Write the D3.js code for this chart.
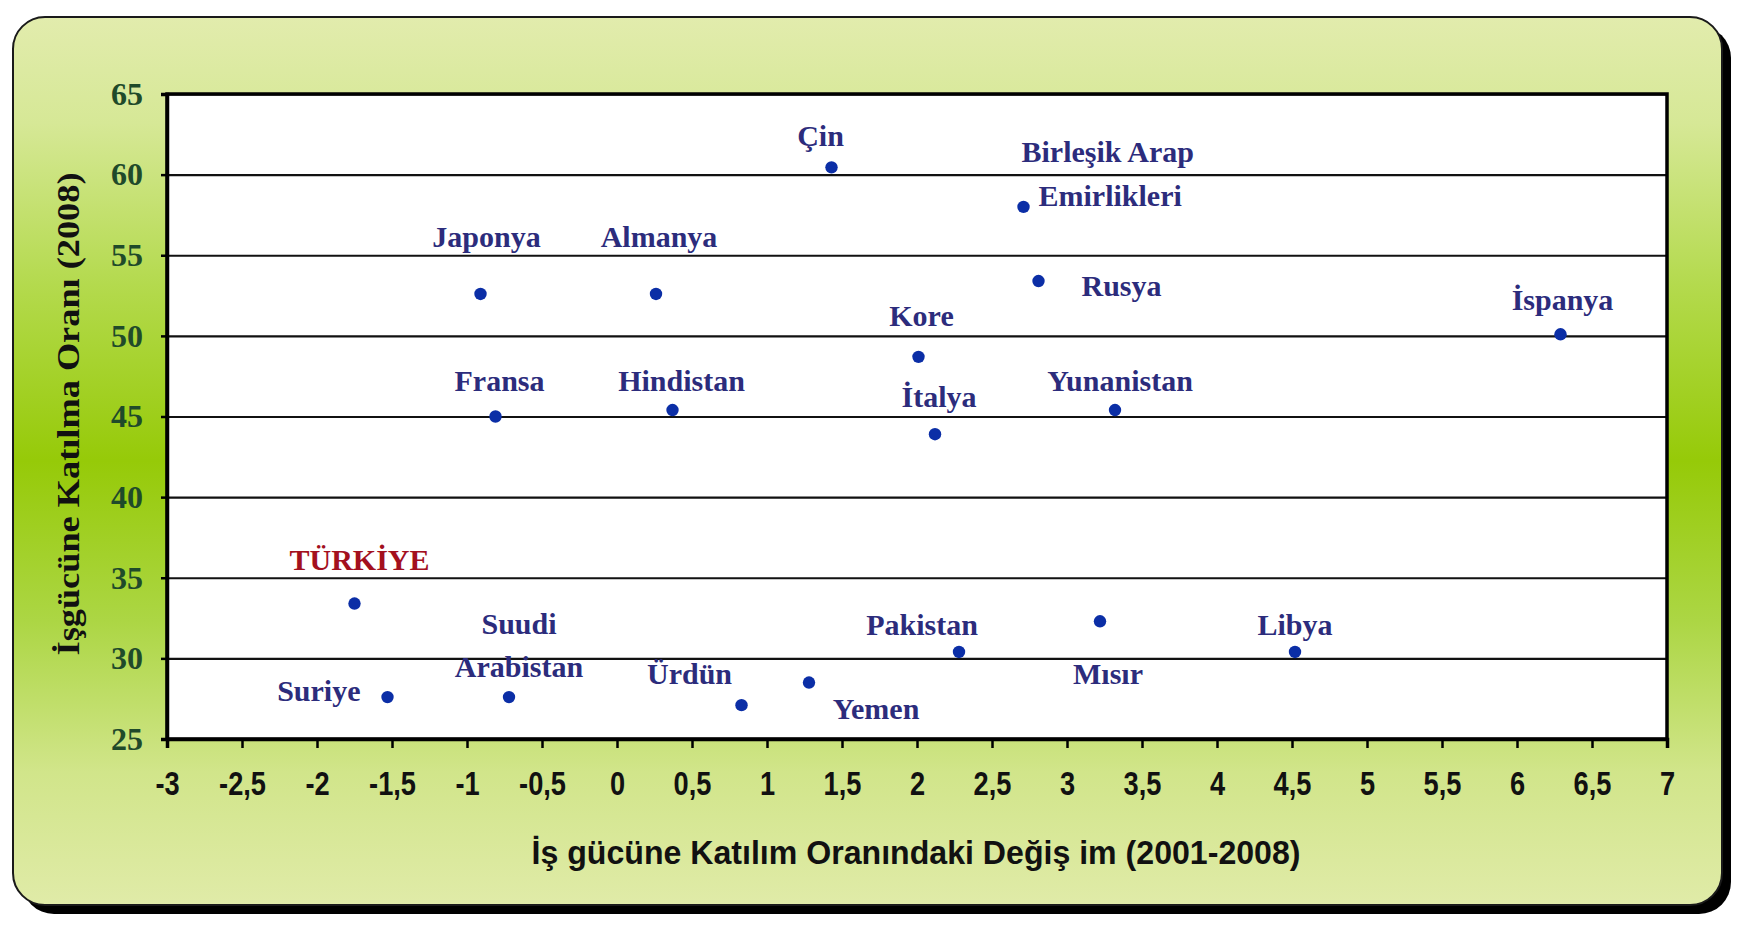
<!DOCTYPE html>
<html>
<head>
<meta charset="utf-8">
<script src="https://cdn.jsdelivr.net/npm/d3@7"></script>
<style>
  body { margin: 0; background: #ffffff; }
  svg { display: block; }
</style>
</head>
<body>
<script>
'use strict';

// chart values
const countries = ["Çin", "Birleşik Arap Emirlikleri", "Japonya", "Almanya", "Rusya", "İspanya",
  "Kore", "Fransa", "Hindistan", "İtalya", "Yunanistan", "TÜRKİYE", "Suriye", "Suudi Arabistan",
  "Ürdün", "Yemen", "Pakistan", "Mısır", "Libya"];
const changeValues = [1.43, 2.71, -0.91, 0.26, 2.81, 6.29, 2.01, -0.81, 0.37, 2.12, 3.32, -1.75,
  -1.53, -0.72, 0.83, 1.28, 2.28, 3.22, 4.52];
const rateValues = [60.45, 58.0, 52.6, 52.6, 53.4, 50.1, 48.7, 45.0, 45.4, 43.9, 45.4, 33.4,
  27.6, 27.6, 27.1, 28.5, 30.4, 32.3, 30.4];
const xTicks = [-3, -2.5, -2, -1.5, -1, -0.5, 0, 0.5, 1, 1.5, 2, 2.5, 3, 3.5, 4, 4.5, 5, 5.5, 6, 6.5, 7];
const yTicks = [25, 30, 35, 40, 45, 50, 55, 60, 65];
const xTitle = "İş gücüne Katılım Oranındaki Değiş im (2001-2008)";
const yTitle = "İşgücüne Katılma Oranı (2008)";

// where each label sits relative to its point (pixels), lines of text
const labelLayout = [
  { lines: ["Çin"], dx: -11, dy: -21, anchor: "middle" },
  { lines: ["Birleşik Arap", "Emirlikleri"], dx: [-2, 15], dy: [-45, -1], anchor: "start" },
  { lines: ["Japonya"], dx: 6, dy: -47, anchor: "middle" },
  { lines: ["Almanya"], dx: 3, dy: -47, anchor: "middle" },
  { lines: ["Rusya"], dx: 43, dy: 15, anchor: "start" },
  { lines: ["İspanya"], dx: 2, dy: -24, anchor: "middle" },
  { lines: ["Kore"], dx: 3, dy: -31, anchor: "middle" },
  { lines: ["Fransa"], dx: 4, dy: -26, anchor: "middle" },
  { lines: ["Hindistan"], dx: 9, dy: -19, anchor: "middle" },
  { lines: ["İtalya"], dx: 4, dy: -27, anchor: "middle" },
  { lines: ["Yunanistan"], dx: 5, dy: -19, anchor: "middle" },
  { lines: ["TÜRKİYE"], dx: 5, dy: -34, anchor: "middle", red: true },
  { lines: ["Suriye"], dx: -27, dy: 4, anchor: "end" },
  { lines: ["Suudi", "Arabistan"], dx: [10, 10], dy: [-63, -20], anchor: "middle" },
  { lines: ["Ürdün"], dx: -52, dy: -21, anchor: "middle" },
  { lines: ["Yemen"], dx: 67, dy: 36, anchor: "middle" },
  { lines: ["Pakistan"], dx: -37, dy: -17, anchor: "middle" },
  { lines: ["Mısır"], dx: 8, dy: 63, anchor: "middle" },
  { lines: ["Libya"], dx: 0, dy: -17, anchor: "middle" }
];

(function() {

  let svgContainer = "";
  const plot = { left: 167, right: 1667, top: 94, bottom: 739 };

  window.onload = function() {
    svgContainer = d3.select('body')
      .append('svg')
      .attr('width', 1742)
      .attr('height', 933);

    drawBackground();
    let map = drawTicks();
    plotData(map);
  }

  // rounded green panel with a black drop shadow
  function drawBackground() {
    let defs = svgContainer.append('defs');
    let grad = defs.append('linearGradient')
      .attr('id', 'panelGrad')
      .attr('x1', 0).attr('y1', 0).attr('x2', 0).attr('y2', 1);
    [[0, '#e2ecad'], [0.12, '#d6e896'], [0.3, '#b4da4e'], [0.5, '#96ca08'],
     [0.68, '#acd644'], [0.85, '#d1e58a'], [1, '#e0eba8']]
      .forEach(s => grad.append('stop').attr('offset', s[0]).attr('stop-color', s[1]));

    svgContainer.append('rect')
      .attr('x', 22).attr('y', 26)
      .attr('width', 1709).attr('height', 888)
      .attr('rx', 32)
      .attr('fill', '#000');

    svgContainer.append('rect')
      .attr('x', 13).attr('y', 17)
      .attr('width', 1709).attr('height', 888)
      .attr('rx', 32)
      .attr('fill', 'url(#panelGrad)')
      .attr('stroke', '#1a1a1a')
      .attr('stroke-width', 2);

    svgContainer.append('rect')
      .attr('x', plot.left).attr('y', plot.top)
      .attr('width', plot.right - plot.left)
      .attr('height', plot.bottom - plot.top)
      .attr('fill', '#ffffff');
  }

  // axes, gridlines and titles
  function drawTicks() {
    let xScale = d3.scaleLinear().domain([-3, 7]).range([plot.left, plot.right]);
    let yScale = d3.scaleLinear().domain([25, 65]).range([plot.bottom, plot.top]);
    let fmt = d => String(d).replace('.', ',');

    // horizontal gridlines
    let grid = d3.axisLeft(yScale)
      .tickValues(yTicks)
      .tickSize(-(plot.right - plot.left))
      .tickFormat('');
    svgContainer.append('g')
      .attr('transform', `translate(${plot.left}, 0)`)
      .call(grid)
      .call(g => g.select('.domain').remove())
      .call(g => g.selectAll('line').attr('stroke', '#111').attr('stroke-width', 2.2));

    // plot border
    svgContainer.append('rect')
      .attr('x', plot.left).attr('y', plot.top)
      .attr('width', plot.right - plot.left)
      .attr('height', plot.bottom - plot.top)
      .attr('fill', 'none')
      .attr('stroke', '#000')
      .attr('stroke-width', 3.5);

    let xAxis = d3.axisBottom(xScale)
      .tickValues(xTicks)
      .tickSize(9)
      .tickPadding(23)
      .tickFormat(fmt);
    svgContainer.append('g')
      .attr('transform', `translate(0, ${plot.bottom})`)
      .call(xAxis)
      .call(g => g.select('.domain').attr('stroke-width', 3.5))
      .call(g => g.selectAll('line').attr('stroke', '#000').attr('stroke-width', 2.5))
      .call(g => g.selectAll('text')
        .attr('fill', '#111')
        .attr('transform', 'scale(0.8, 1)')
        .style('font-family', '"Liberation Sans", Arial, sans-serif')
        .style('font-weight', 'bold')
        .style('font-size', '34px'));

    let yAxis = d3.axisLeft(yScale)
      .tickValues(yTicks)
      .tickSize(6)
      .tickPadding(18);
    svgContainer.append('g')
      .attr('transform', `translate(${plot.left}, 0)`)
      .call(yAxis)
      .call(g => g.select('.domain').attr('stroke-width', 3.5))
      .call(g => g.selectAll('line').attr('stroke', '#000').attr('stroke-width', 2.5))
      .call(g => g.selectAll('text')
        .attr('fill', '#1f4a2a')
        .style('font-family', '"Liberation Serif", "Times New Roman", serif')
        .style('font-weight', 'bold')
        .style('font-size', '32px'));

    // axis titles
    svgContainer.append('text')
      .attr('x', 916).attr('y', 864)
      .attr('text-anchor', 'middle')
      .attr('textLength', 769)
      .attr('lengthAdjust', 'spacingAndGlyphs')
      .attr('fill', '#111')
      .style('font-family', '"Liberation Sans", Arial, sans-serif')
      .style('font-weight', 'bold')
      .style('font-size', '33px')
      .text(xTitle);

    svgContainer.append('text')
      .attr('transform', 'translate(79, 414) rotate(-90)')
      .attr('text-anchor', 'middle')
      .attr('textLength', 483)
      .attr('lengthAdjust', 'spacingAndGlyphs')
      .attr('fill', '#111')
      .style('font-family', '"Liberation Serif", "Times New Roman", serif')
      .style('font-weight', 'bold')
      .style('font-size', '31px')
      .text(yTitle);

    return { xScale: xScale, yScale: yScale };
  }

  // points and country labels
  function plotData(map) {
    let rows = countries.map((c, i) => ({
      name: c, x: changeValues[i], y: rateValues[i], layout: labelLayout[i]
    }));

    svgContainer.selectAll('.dot')
      .data(rows)
      .enter()
      .append('circle')
        .attr('class', 'dot')
        .attr('cx', d => map.xScale(d.x))
        .attr('cy', d => map.yScale(d.y))
        .attr('r', 6.2)
        .attr('fill', '#0b2ea6');

    let labels = svgContainer.selectAll('.label')
      .data(rows)
      .enter()
      .append('text')
        .attr('class', 'label')
        .attr('text-anchor', d => d.layout.anchor)
        .attr('fill', d => d.layout.red ? '#a3101e' : '#2c2c7c')
        .style('font-family', '"Liberation Serif", "Times New Roman", serif')
        .style('font-weight', 'bold')
        .style('font-size', '30px');

    labels.selectAll('tspan')
      .data(d => d.layout.lines.map((line, k) => ({
        line: line,
        x: map.xScale(d.x) + (Array.isArray(d.layout.dx) ? d.layout.dx[k] : d.layout.dx),
        y: map.yScale(d.y) + (Array.isArray(d.layout.dy) ? d.layout.dy[k] : d.layout.dy)
      })))
      .enter()
      .append('tspan')
        .attr('x', t => t.x)
        .attr('y', t => t.y)
        .text(t => t.line);
  }
})();
</script>
</body>
</html>
